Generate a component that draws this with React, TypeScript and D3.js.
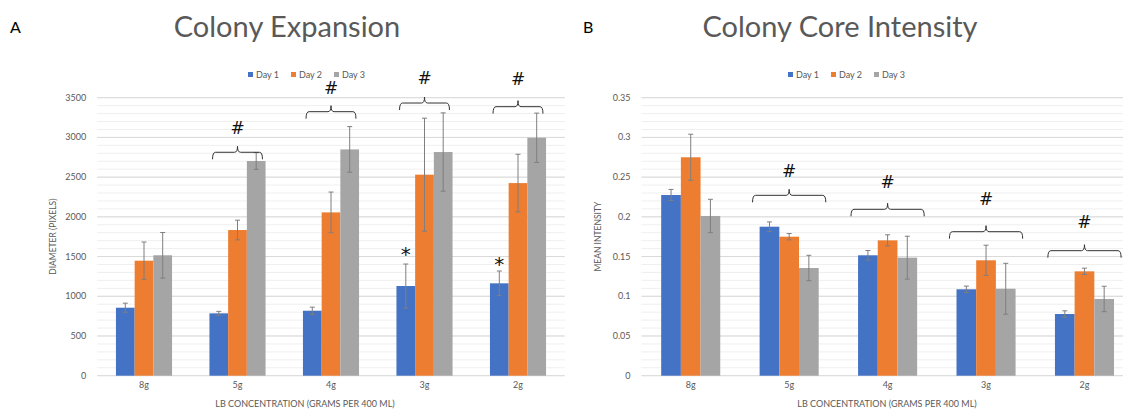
import React from 'react';
import * as d3 from 'd3';

// categories and series
const categories = ['8g', '5g', '4g', '3g', '2g'];
const seriesNames = ['Day 1', 'Day 2', 'Day 3'];
const seriesColors = ['#4472C4', '#ED7D31', '#A5A5A5'];

// panel A - colony diameter (pixels)
const diameterDay1 = [856, 785, 818, 1129, 1163];
const diameterDay2 = [1448, 1834, 2056, 2531, 2425];
const diameterDay3 = [1516, 2703, 2849, 2816, 2996];
const diameterErr1 = [57, 25, 45, 277, 155];
const diameterErr2 = [235, 124, 256, 711, 363];
const diameterErr3 = [287, 105, 287, 493, 310];
const diameterTicks = [0, 500, 1000, 1500, 2000, 2500, 3000, 3500];
const diameterBraceCats = ['5g', '4g', '3g', '2g'];
const diameterBraceLevel = [2813, 3324, 3433, 3387];
const diameterHashLevel = [3122, 3620, 3742, 3735];
const diameterStarCats = ['3g', '2g'];
const diameterStarLevel = [1580, 1455];

// panel B - colony core mean intensity
const intensityDay1 = [0.2275, 0.1876, 0.1516, 0.1088, 0.0777];
const intensityDay2 = [0.275, 0.175, 0.1704, 0.1453, 0.1314];
const intensityDay3 = [0.2011, 0.1356, 0.1486, 0.1095, 0.0966];
const intensityErr1 = [0.007, 0.006, 0.006, 0.004, 0.004];
const intensityErr2 = [0.029, 0.004, 0.007, 0.019, 0.004];
const intensityErr3 = [0.021, 0.016, 0.027, 0.032, 0.016];
const intensityTicks = [0, 0.05, 0.1, 0.15, 0.2, 0.25, 0.3, 0.35];
const intensityBraceCats = ['5g', '4g', '3g', '2g'];
const intensityBraceLevel = [0.2271, 0.2095, 0.1813, 0.1574];
const intensityHashLevel = [0.2581, 0.2443, 0.2225, 0.1939];

const FONT = 'Lato, "Open Sans", sans-serif';
const TEXT = '#595959';

type PanelProps = {
  letter: string;
  letterX: number;
  title: string;
  titleX: number;
  legendX: number;
  x0: number;
  x1: number;
  yTop: number;
  yBottom: number;
  values: number[][];
  errors: number[][];
  ticks: number[];
  minorStep: number;
  yTitle: string;
  xTitleX: number;
  braceCats: string[];
  braceLevel: number[];
  hashLevel: number[];
  braceFrac: number;
  starCats?: string[];
  starLevel?: number[];
};

// curly brace lying on its side, opening downwards
function bracePath(xa: number, xb: number, y: number, hook: number, peak: number) {
  const cx = (xa + xb) / 2;
  const r = 3;
  return `M${xa},${y + hook} Q${xa},${y} ${xa + r},${y} L${cx - r},${y} Q${cx},${y} ${cx},${y - peak} Q${cx},${y} ${cx + r},${y} L${xb - r},${y} Q${xb},${y} ${xb},${y + hook}`;
}

const Panel = (p: PanelProps) => {
  const yMax = p.ticks[p.ticks.length - 1];
  const y = d3.scaleLinear().domain([0, yMax]).range([p.yBottom, p.yTop]);
  const x = d3.scaleBand().domain(categories).range([p.x0, p.x1]).paddingInner(0.4).paddingOuter(0.2);
  const xs = d3.scaleBand().domain(seriesNames).range([0, x.bandwidth()]);
  const minor = d3.range(0, yMax + p.minorStep / 2, p.minorStep);
  const fmt = (v: number) => (yMax < 1 ? String(+v.toFixed(2)) : String(v));

  return (
    <g fontFamily={FONT}>
      <text x={p.letterX} y={33} fontSize={16} fill="#000">{p.letter}</text>
      <text x={p.titleX} y={37} fontSize={29} fill={TEXT} textAnchor="middle">{p.title}</text>

      {/* legend */}
      {seriesNames.map((s, i) => (
        <g key={s} transform={`translate(${p.legendX + i * 43},0)`}>
          <rect x={0} y={72} width={5} height={5} fill={seriesColors[i]} />
          <text x={8} y={77.5} fontSize={9} fill={TEXT}>{s}</text>
        </g>
      ))}

      {/* gridlines */}
      {minor.map((v) => (
        <line key={'m' + v} x1={p.x0} x2={p.x1} y1={y(v)} y2={y(v)} stroke="#EFEFEF" strokeWidth={1} />
      ))}
      {p.ticks.map((v) => (
        <line key={'t' + v} x1={p.x0} x2={p.x1} y1={y(v)} y2={y(v)} stroke="#D9D9D9" strokeWidth={1} />
      ))}
      {p.ticks.map((v) => (
        <text key={'l' + v} x={p.x0 - 11} y={y(v) + 3} fontSize={9} fill={TEXT} textAnchor="end">{fmt(v)}</text>
      ))}

      {/* bars and error bars */}
      {categories.map((c, ci) => (
        <g key={c} transform={`translate(${x(c)},0)`}>
          {seriesNames.map((s, si) => {
            const v = p.values[si][ci];
            const e = p.errors[si][ci];
            const bx = xs(s)!;
            const cx = bx + xs.bandwidth() / 2;
            return (
              <g key={s}>
                <rect x={bx} y={y(v)} width={xs.bandwidth()} height={y(0) - y(v)} fill={seriesColors[si]} />
                <line x1={cx} x2={cx} y1={y(v + e)} y2={y(v - e)} stroke="#7F7F7F" strokeWidth={1} />
                <line x1={cx - 2.5} x2={cx + 2.5} y1={y(v + e)} y2={y(v + e)} stroke="#7F7F7F" strokeWidth={1} />
                <line x1={cx - 2.5} x2={cx + 2.5} y1={y(v - e)} y2={y(v - e)} stroke="#7F7F7F" strokeWidth={1} />
              </g>
            );
          })}
          <text x={x.bandwidth() / 2} y={388} fontSize={9} fill={TEXT} textAnchor="middle">{c}</text>
        </g>
      ))}

      {/* significance braces */}
      {p.braceCats.map((c, i) => {
        const cx = x(c)! + x.bandwidth() / 2;
        const hw = (x.bandwidth() * p.braceFrac) / 2;
        return (
          <g key={'b' + c}>
            <path d={bracePath(cx - hw, cx + hw, y(p.braceLevel[i]), 7, 6)} fill="none" stroke="#333" strokeWidth={1} />
            <text x={cx} y={y(p.hashLevel[i]) + 6} fontSize={17} textAnchor="middle" fill="#111" fontFamily="'DejaVu Sans', sans-serif">#</text>
          </g>
        );
      })}
      {(p.starCats || []).map((c, i) => {
        const cx = x(c)! + xs('Day 1')! + xs.bandwidth() / 2;
        return (
          <text key={'s' + c} x={cx} y={y(p.starLevel![i]) + 11} fontSize={20} textAnchor="middle" fill="#111" fontFamily="'DejaVu Sans', sans-serif">*</text>
        );
      })}

      {/* axis titles */}
      <text transform={`translate(${p.x0 - 41},${(p.yTop + p.yBottom) / 2}) rotate(-90)`} fontSize={8.5} fill={TEXT} textAnchor="middle">{p.yTitle}</text>
      <text x={p.xTitleX} y={407} fontSize={9} fill={TEXT} textAnchor="middle">LB CONCENTRATION (GRAMS PER 400 ML)</text>
    </g>
  );
};

export default function App() {
  return (
    <svg width={1123} height={410} style={{ position: 'absolute', left: 0, top: 0, background: '#fff' }}>
      <rect width={1123} height={410} fill="#fff" />
      <Panel
        letter="A" letterX={10} title="Colony Expansion" titleX={287} legendX={248}
        x0={97.25} x1={564.75} yTop={97.7} yBottom={375.7}
        values={[diameterDay1, diameterDay2, diameterDay3]}
        errors={[diameterErr1, diameterErr2, diameterErr3]}
        ticks={diameterTicks} minorStep={100} yTitle="DIAMETER (PIXELS)" xTitleX={305}
        braceCats={diameterBraceCats} braceLevel={diameterBraceLevel} hashLevel={diameterHashLevel}
        braceFrac={0.89} starCats={diameterStarCats} starLevel={diameterStarLevel}
      />
      <Panel
        letter="B" letterX={583} title="Colony Core Intensity" titleX={840} legendX={788}
        x0={641.5} x1={1133.7} yTop={97.7} yBottom={375.7}
        values={[intensityDay1, intensityDay2, intensityDay3]}
        errors={[intensityErr1, intensityErr2, intensityErr3]}
        ticks={intensityTicks} minorStep={0.01} yTitle="MEAN INTENSITY" xTitleX={887}
        braceCats={intensityBraceCats} braceLevel={intensityBraceLevel} hashLevel={intensityHashLevel}
        braceFrac={1.24}
      />
    </svg>
  );
}
